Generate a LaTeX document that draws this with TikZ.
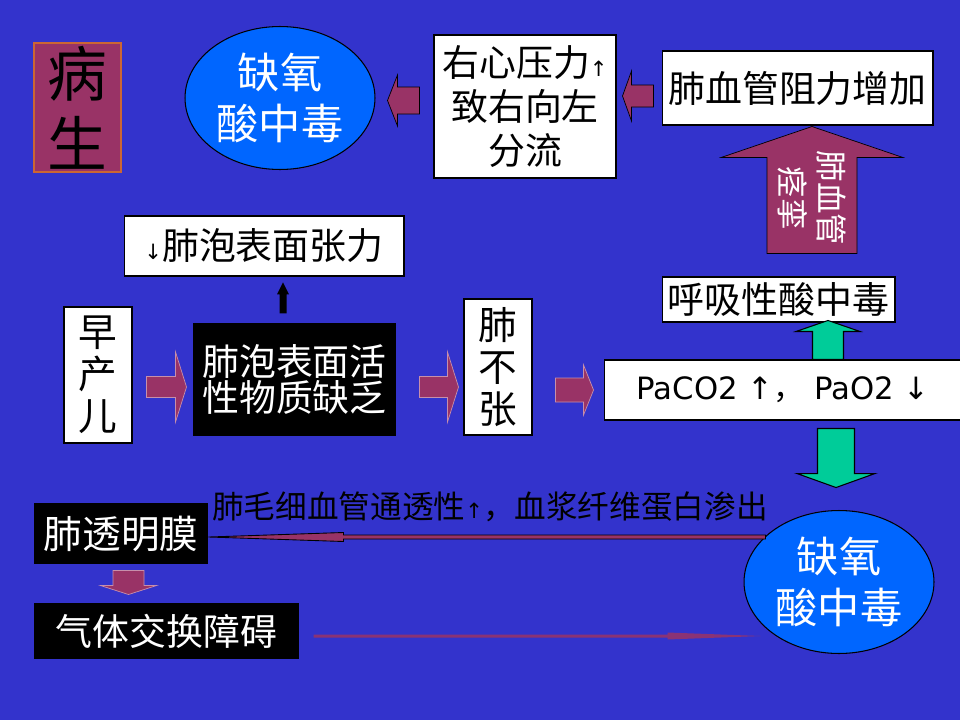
\documentclass[tikz,border=0pt]{standalone}
\usepackage{fontspec}
\usepackage{tikz}
\usetikzlibrary{shapes.geometric,calc}
\setmainfont{Noto Sans CJK SC}
\newfontfamily\arw{DejaVu Sans}

\definecolor{slidebg}{RGB}{51,51,204}
\definecolor{plum}{RGB}{153,51,102}
\definecolor{skyblue}{RGB}{0,102,255}
\definecolor{seagreen}{RGB}{0,204,153}
\definecolor{rust}{RGB}{204,102,51}

\newcommand{\smup}{{\arw\fontsize{12}{12}\selectfont ↑}}
\newcommand{\smdown}{{\arw\fontsize{12}{12}\selectfont ↓}}

\tikzset{
  pics/fatarrow/.style args={#1/#2/#3/#4}{code={
    \path[pic actions] (0,-#2) -- (#1-#4,-#2) -- (#1-#4,-#3) -- (#1,0)
      -- (#1-#4,#3) -- (#1-#4,#2) -- (0,#2) -- cycle;}}
}

\begin{document}
\begin{tikzpicture}[x=0.02cm,y=-0.02cm,line width=0.6pt,inner sep=0pt]

	\tikzstyle{txt}=[font=\fontsize{21}{25}\selectfont]
	\tikzstyle{whitebox}=[txt,draw=black,fill=white,text=black,align=center]
	\tikzstyle{blackbox}=[txt,fill=black,text=white,align=center]
	\tikzstyle{bubble}=[ellipse,draw=black,fill=skyblue,text=white,align=center,
		minimum width=3.8cm,minimum height=2.86cm,font=\fontsize{24}{29.5}\selectfont]
	\tikzstyle{plumarrow}=[fill=plum,draw=plum!55!white,line width=0.4pt]
	\tikzstyle{mintarrow}=[fill=seagreen,draw=black]

	\path[use as bounding box,fill=slidebg] (0,0) rectangle (960,720);

	% top row
	\node[fill=plum,draw=rust,minimum width=1.74cm,minimum height=2.58cm,align=center,
		font=\fontsize{34}{40}\selectfont] (bing) at (77.5,107.5) {病\\生};
	\node[bubble] (hypoA) at (280,98) {缺氧\\酸中毒};
	\node[whitebox,minimum width=3.64cm,minimum height=2.86cm] (shunt) at (525,106.5)
		{右心压力\smup\\致右向左\\分流};
	\node[whitebox,minimum width=5.42cm,minimum height=1.48cm] (pvr) at (797.5,88)
		{肺血管阻力增加};

	% middle
	\node[whitebox,minimum width=5.6cm,minimum height=1.2cm] (tension) at (264,246)
		{\smdown 肺泡表面张力};
	\node[whitebox,minimum width=1.36cm,minimum height=2.72cm,font=\fontsize{22}{24}\selectfont]
		(preterm) at (98,375) {早\\产\\儿};
	\node[blackbox,minimum width=4.06cm,minimum height=2.26cm,font=\fontsize{21}{21}\selectfont]
		(surf) at (294.5,379.5) {肺泡表面活\\性物质缺乏};
	\node[whitebox,minimum width=1.36cm,minimum height=2.72cm,font=\fontsize{22}{24}\selectfont]
		(atel) at (498,367) {肺\\不\\张};
	\node[whitebox,minimum width=4.66cm,minimum height=0.9cm] (resp) at (778.5,299.5)
		{呼吸性酸中毒};
	\node[whitebox,minimum width=7.16cm,minimum height=1.2cm,font=\arw\fontsize{17.5}{20}\selectfont]
		(gas) at (783,390) {PaCO2 ↑{\rmfamily ，} PaO2 ↓};

	% bottom
	\node[bubble] (hypoB) at (839,582) {缺氧\\酸中毒};
	\node[blackbox,minimum width=3.48cm,minimum height=1.22cm,font=\fontsize{22}{24}\selectfont]
		(hyaline) at (121,533.5) {肺透明膜};
	\node[blackbox,minimum width=5.3cm,minimum height=1.12cm] (gasex) at (166.5,631)
		{气体交换障碍};
	\node[font=\fontsize{18}{22}\selectfont] (leak) at (490,507)
		{肺毛细血管通透性\smup，血浆纤维蛋白渗出};

	% block arrows
	\pic[plumarrow,draw=black,rotate=180] at ($(shunt.west)+(-14,-6)$) {fatarrow=32/13.5/25.5/10};
	\pic[plumarrow,draw=black,rotate=180] at ($(pvr.west)+(-8,8)$) {fatarrow=31/11/25/9};
	\pic[plumarrow,draw=black,rotate=90] at ($(pvr.south)+(14.5,128)$) {fatarrow=127/45/91/31};
	\node[rotate=-90,text=white,align=center,font=\fontsize{18}{22}\selectfont]
		(spasm) at (812,198) {肺血管\\痉挛};
	\pic[mintarrow,rotate=90] at ($(gas.north)+(45,0)$) {fatarrow=39/15.5/32/11};
	\pic[mintarrow,rotate=-90] at ($(gas.south)+(53,8)$) {fatarrow=59/18.5/39/14};
	\pic[plumarrow] at ($(preterm.east)+(14,12)$) {fatarrow=40/10.5/35/11};
	\pic[plumarrow] at ($(surf.east)+(23,7.5)$) {fatarrow=39/10.5/35/11};
	\pic[plumarrow] at ($(atel.east)+(23,23)$) {fatarrow=38/12/25/10};
	\pic[fill=black,rotate=90] at ($(surf.north)+(-11.5,-9)$) {fatarrow=31/3.5/6/12};
	\pic[plumarrow,rotate=-90] at ($(hyaline.south)+(7.5,6)$) {fatarrow=24/15.5/28/9};
	\pic[plumarrow,draw=black,line width=0.5pt,rotate=180] at ($(hyaline.east)+(557,3.5)$)
		{fatarrow=557/2/4.5/135};
	\pic[fill=plum!85!slidebg] at ($(gasex.east)+(14,5)$) {fatarrow=447/1.5/3.5/93};

\end{tikzpicture}
\end{document}
